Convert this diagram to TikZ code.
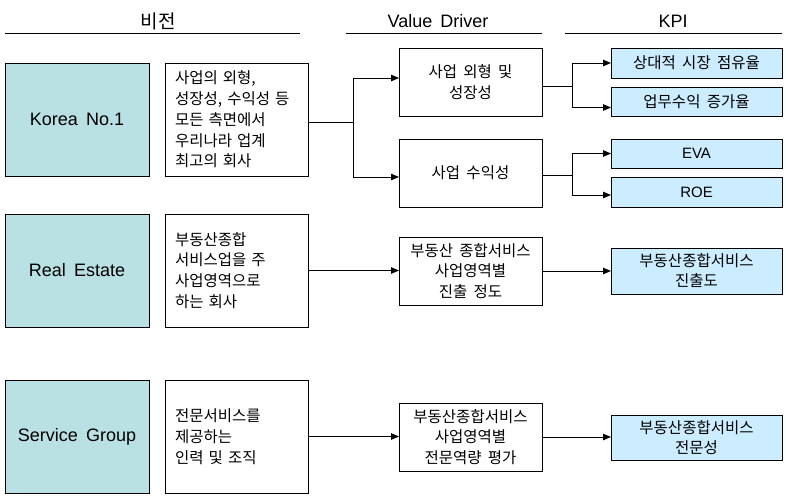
\documentclass[tikz,border=0pt]{standalone}
\usepackage{fontspec}
\setmainfont{Liberation Sans}
\newfontfamily\kr{Noto Sans CJK KR}[WordSpace=1.8]
\usetikzlibrary{arrows.meta}
\definecolor{leftc}{RGB}{185,224,226}
\definecolor{kpic}{RGB}{204,236,255}
\tikzset{
  every node/.style={outer sep=0pt},
  lbox/.style={draw, fill=leftc, line width=1pt, anchor=north west, minimum width=144pt, minimum height=113pt, inner sep=0pt, font=\fontsize{18}{22}\selectfont},
  tbox/.style={draw, line width=1pt, anchor=north west, minimum width=143pt, minimum height=113pt, inner xsep=10pt, inner ysep=0pt, text width=123pt, align=left, font=\kr\fontsize{15.5}{20.8}\selectfont},
  vbox/.style={draw, line width=1pt, anchor=north west, minimum width=143pt, minimum height=68pt, inner sep=0pt, align=center, font=\kr\fontsize{15.5}{20.5}\selectfont},
  kbox/.style={draw, fill=kpic, line width=1pt, anchor=north west, minimum width=171pt, inner sep=0pt, align=center, font=\kr\fontsize{15.5}{20}\selectfont},
  head/.style={font=\fontsize{18}{22}\selectfont, inner sep=0pt},
  hline/.style={line width=0.9pt},
  conn/.style={line width=1pt},
  arr/.style={line width=1pt, -{Triangle[length=8pt,width=6.5pt]}}
}
\begin{document}
\begin{tikzpicture}[x=1pt,y=-1pt]
\useasboundingbox (0,0) rectangle (786,496);
% headers
\node[head] (h1) at (158,21) {\kr\fontsize{19}{22}\selectfont 비전};
\node[head] (h2) at (438,21) {Value\hspace{0.45em}Driver};
\node[head] (h3) at (673,21) {KPI};
\draw[hline] (5,33) -- (300,33);
\draw[hline] (346,33) -- (542,33);
\draw[hline] (565,33) -- (782,33);
% vision
\node[lbox] (v1) at (5,63) {Korea\hspace{0.45em}No.1};
\node[lbox] (v2) at (5,214) {Real\hspace{0.45em}Estate};
\node[lbox] (v3) at (5,380) {Service\hspace{0.45em}Group};
\node[tbox] (t1) at (165,63) {사업의~외형,\\성장성,~수익성~등\\모든~측면에서\\우리나라~업계\\최고의~회사};
\node[tbox] (t2) at (165,214) {부동산종합\\서비스업을~주\\사업영역으로\\하는~회사};
\node[tbox] (t3) at (165,380) {전문서비스를\\제공하는\\인력~및~조직};
% value drivers
\node[vbox] (d1) at (399,48) {사업 외형 및\\성장성};
\node[vbox] (d2) at (399,139) {사업 수익성};
\node[vbox] (d3) at (399,237) {부동산 종합서비스\\사업영역별\\진출 정도};
\node[vbox] (d4) at (399,403) {부동산종합서비스\\사업영역별\\전문역량 평가};
% KPI
\node[kbox, minimum height=30pt] (k1) at (611,48) {상대적 시장 점유율};
\node[kbox, minimum height=29pt] (k2) at (611,87) {업무수익 증가율};
\node[kbox, minimum height=29pt, font=\fontsize{15}{18}\selectfont] (k3) at (611,139) {EVA};
\node[kbox, minimum height=30pt, font=\fontsize{15}{18}\selectfont] (k4) at (611,177) {ROE};
\node[kbox, minimum height=46pt] (k5) at (611,248) {부동산종합서비스\\진출도};
\node[kbox, minimum height=45pt] (k6) at (611,415) {부동산종합서비스\\전문성};
% connectors row 1
\draw[conn] ([yshift=-3pt]t1.east) -- ++(45,0) coordinate (j1);
\draw[arr] (j1) |- ([yshift=4pt]d1.west);
\draw[arr] (j1) |- ([yshift=-4pt]d2.west);
\draw[conn] ([yshift=-4pt]d1.east) -- ++(30,0) coordinate (j2);
\draw[arr] (j2) |- (k1.west);
\draw[arr] (j2) |- ([yshift=-6pt]k2.west);
\draw[conn] ([yshift=-2pt]d2.east) -- ++(30,0) coordinate (j3);
\draw[arr] (j3) |- (k3.west);
\draw[arr] (j3) |- ([yshift=-3pt]k4.west);
% row 2
\draw[arr] (t2.east) -- (t2.east -| d3.west);
\draw[arr] (d3.east) -- (d3.east -| k5.west);
% row 3
\draw[arr] (t3.east) -- (t3.east -| d4.west);
\draw[arr] (d4.east) -- (d4.east -| k6.west);
\end{tikzpicture}
\end{document}
